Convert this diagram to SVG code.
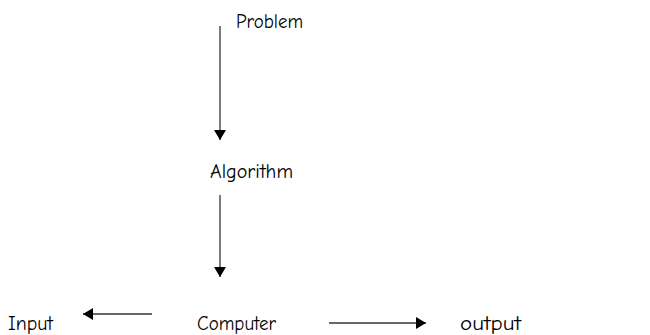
<svg xmlns="http://www.w3.org/2000/svg" width="650" height="335" viewBox="0 0 650 335">
<style>
text{font-family:"Comic Sans MS","Comic Neue","DejaVu Sans",sans-serif;font-size:20px;fill:#000}
.c line{stroke:#333;stroke-width:1.3;fill:none}
</style>
<defs>
<marker id="ah" markerWidth="10" markerHeight="12" refX="10" refY="6" orient="auto" markerUnits="userSpaceOnUse">
<path d="M0,0 L10,6 L0,12 Z" fill="#000"/>
</marker>
</defs>
<rect width="650" height="335" fill="#fff"/>
<g id="problem"><text x="236" y="28" textLength="67" lengthAdjust="spacingAndGlyphs">Problem</text></g>
<g id="algorithm"><text x="210" y="178" textLength="83" lengthAdjust="spacingAndGlyphs">Algorithm</text></g>
<g id="computer"><text x="197" y="330" textLength="79" lengthAdjust="spacingAndGlyphs">Computer</text></g>
<g id="input"><text x="8" y="330" textLength="45" lengthAdjust="spacingAndGlyphs">Input</text></g>
<g id="output"><text x="460" y="330" textLength="61" lengthAdjust="spacingAndGlyphs">output</text></g>
<g class="c" id="connectors">
<line x1="220" y1="26" x2="220" y2="140" marker-end="url(#ah)"/>
<line x1="220" y1="195" x2="220" y2="277" marker-end="url(#ah)"/>
<line x1="152" y1="314" x2="83" y2="314" marker-end="url(#ah)"/>
<line x1="329" y1="323" x2="426" y2="323" marker-end="url(#ah)"/>
</g>
</svg>
